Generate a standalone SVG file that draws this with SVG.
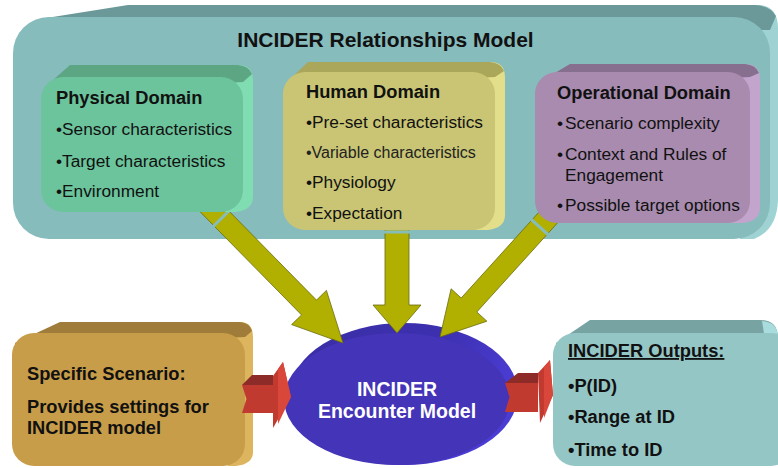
<svg xmlns="http://www.w3.org/2000/svg" width="778" height="468" viewBox="0 0 778 468">
  <style>
    text { font-family: "Liberation Sans", Arial, sans-serif; fill: #111; }
    .title { font-size: 21px; font-weight: bold; }
    .head { font-size: 18.3px; font-weight: bold; }
    .item { font-size: 17.3px; }
    .small { font-size: 16px; fill: #222; }
    .btxt { font-size: 18.3px; font-weight: bold; }
    .ell { font-size: 19.5px; font-weight: bold; fill: #ffffff; text-anchor: middle; }
    .olive { fill: #b1b000; stroke: #6b6b10; stroke-width: 0.8; }
    .gap { stroke: #87bcbd; stroke-width: 3; }
  </style>
  <defs>
    <linearGradient id="ellBack" x1="0" y1="0" x2="1" y2="0.4">
      <stop offset="0" stop-color="#3a2ea4"/>
      <stop offset="0.6" stop-color="#3d30b0"/>
      <stop offset="1" stop-color="#4b3dd4"/>
    </linearGradient>
  </defs>

  <!-- outer model container -->
  <g id="relationships-model">
    <path d="M740,5 H760 Q778,7 778,28 V200 Q777,230 754,239 H740 Z" fill="#9fd3d3"/>
    <path d="M40,19 L128,5 H755 Q770,6 776,16 L770,30 L40,30 Z" fill="#6b9898"/>
    <rect x="13" y="17" width="757" height="222" rx="36" fill="#87bcbd"/>
    <text class="title" x="385.5" y="47" text-anchor="middle">INCIDER Relationships Model</text>
  </g>

  <!-- encounter model ellipse -->
  <g id="encounter-model">
    <ellipse cx="404" cy="394" rx="114" ry="71" fill="url(#ellBack)"/>
    <ellipse cx="397" cy="399" rx="113" ry="66" fill="#4434b8"/>
    <text class="ell" x="397" y="396">INCIDER</text>
    <text class="ell" x="397" y="418">Encounter Model</text>
  </g>

  <!-- connectors -->
  <g id="connectors">
    <polygon class="olive" points="211.3,193.1 316.5,300.1 326.4,290.4 343,343 291.6,324.6 301.5,314.9 196.3,207.9"/>
    <line class="gap" x1="230.7" y1="209.3" x2="212.1" y2="227.5"/>
    <polygon class="olive" points="385,215 409,215 409,305 421,305 397,333 373,305 385,305"/>
    <line class="gap" x1="383" y1="232" x2="411" y2="232" stroke-width="2.5"/>
    <polygon class="olive" points="564,215.7 476.8,312 486.9,321.2 440,337 451.1,288.8 461.2,298 548.4,201.7"/>
    <line class="gap" x1="549.2" y1="235.7" x2="530" y2="218.3"/>
  </g>

  <!-- domain boxes -->
  <g id="physical-domain">
    <path d="M225,65 H238 Q253,65 253,80 V197 Q253,210 236,212 H225 Z" fill="#80dcb1"/>
    <path d="M44,88 L70,65 H238 Q249,66 252,74 L243,82 L44,92 Z" fill="#5da684"/>
    <rect x="41" y="77" width="202" height="135" rx="22" fill="#6cc49c"/>
    <text class="head" x="56" y="104">Physical Domain</text>
    <text class="item" x="56" y="135">•Sensor characteristics</text>
    <text class="item" x="56" y="166.5">•Target characteristics</text>
    <text class="item" x="56" y="197">•Environment</text>
  </g>

  <g id="human-domain">
    <path d="M475,62 H490 Q505,62 505,77 V215 Q505,228 488,230 H475 Z" fill="#e2de89"/>
    <path d="M286,83 L308,62 H490 Q501,63 504,71 L495,77 L286,88 Z" fill="#aaa65a"/>
    <rect x="283" y="72" width="212" height="158" rx="22" fill="#c9c574"/>
    <text class="head" x="306" y="98">Human Domain</text>
    <text class="item" x="306" y="128">•Pre-set characteristics</text>
    <text class="small" x="306" y="158">•Variable characteristics</text>
    <text class="item" x="306" y="188">•Physiology</text>
    <text class="item" x="306" y="218.5">•Expectation</text>
  </g>

  <g id="operational-domain">
    <path d="M730,64 H745 Q760,64 760,79 V208 Q760,221 743,223 H730 Z" fill="#c2a4cc"/>
    <path d="M538,83 L570,64 H745 Q756,65 759,73 L750,77 L538,88 Z" fill="#876f8f"/>
    <rect x="535" y="72" width="215" height="151" rx="22" fill="#a88bae"/>
    <text class="head" x="557" y="98.5">Operational Domain</text>
    <text class="item" x="557" y="128.5">•</text>
    <text class="item" x="565" y="128.5">Scenario complexity</text>
    <text class="item" x="557" y="159.5">•</text>
    <text class="item" x="565" y="159.5">Context and Rules of</text>
    <text class="item" x="565" y="180.5">Engagement</text>
    <text class="item" x="557" y="211">•</text>
    <text class="item" x="565" y="211">Possible target options</text>
  </g>

  <!-- bottom boxes -->
  <g id="specific-scenario">
    <path d="M228,322 H240 Q253,322 253,337 V452 Q253,464 236,466 H228 Z" fill="#ddb55e"/>
    <path d="M15,343 L60,322 H240 Q250,323 252,331 L245,337 L15,348 Z" fill="#a07c3a"/>
    <rect x="12" y="333" width="233" height="133" rx="22" fill="#c89d49"/>
    <text class="btxt" x="27" y="380">Specific Scenario:</text>
    <text class="btxt" x="27" y="413">Provides settings for</text>
    <text class="btxt" x="27" y="434">INCIDER model</text>
  </g>

  <g id="incider-outputs">
    <path d="M556,343 L590,320 H760 Q778,320 778,338 V350 L556,350 Z" fill="#77a3a3"/>
    <path d="M762,321 Q778,322 778,338 V345 L765,340 Z" fill="#a9dcdc"/>
    <rect x="553" y="333" width="240" height="133" rx="22" fill="#95c6c6"/>
    <text class="btxt" x="568" y="357" text-decoration="underline">INCIDER Outputs:</text>
    <text class="btxt" x="568" y="392">•P(ID)</text>
    <text class="btxt" x="568" y="423">•Range at ID</text>
    <text class="btxt" x="568" y="456">•Time to ID</text>
  </g>

  <!-- block arrows into and out of the encounter model -->
  <g id="flow-arrows">
    <polygon points="242,385 252,375 273,375 273,385" fill="#8c2b27"/>
    <polygon points="242,385 273,385 273,413 242,413 246.5,399" fill="#c13a30"/>
    <polygon points="273,376 283,362 291,397 273,428" fill="#c23a2f"/>
    <polygon points="278,369 283,362 291,397 278,424" fill="#d9473b"/>

    <polygon points="505,383 518,373 538,373 538,383" fill="#8c2b27"/>
    <polygon points="505,383 538,383 538,412 505,412 509.5,397" fill="#c13a30"/>
    <polygon points="538,373 550,360 553,395 540,423" fill="#c23a2f"/>
    <polygon points="544,367 550,360 553,395 544,418" fill="#d9473b"/>
  </g>
</svg>
